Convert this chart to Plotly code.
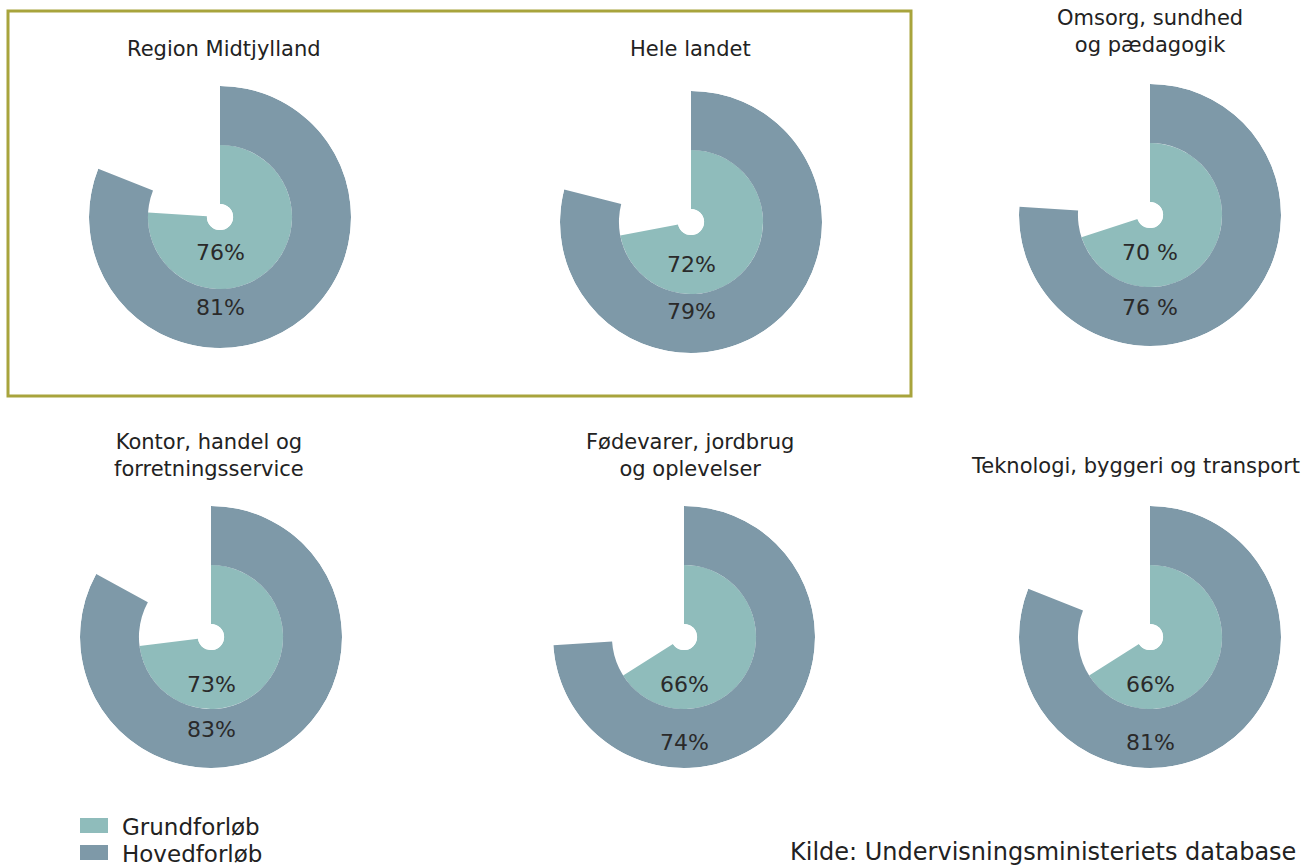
import plotly.graph_objects as go

W, H = 1304, 867

titles = ["Region Midtjylland", "Hele landet", "Omsorg, sundhed<br>og pædagogik",
          "Kontor, handel og<br>forretningsservice", "Fødevarer, jordbrug<br>og oplevelser",
          "Teknologi, byggeri og transport"]
grund = [76, 72, 70, 73, 66, 66]
hoved = [81, 79, 76, 83, 74, 81]
grund_txt = ["76%", "72%", "70 %", "73%", "66%", "66%"]
hoved_txt = ["81%", "79%", "76 %", "83%", "74%", "81%"]
series = ["Grundforløb", "Hovedforløb"]
source = "Kilde: Undervisningsministeriets database"

# layout in pixels: chart centres, title positions, label offsets
centres = [(220, 217), (691, 222), (1150, 215), (211, 637), (684, 637), (1150, 637)]
title_pos = [(224, 49), (690, 49), (1150, 31), (209, 456), (690, 456), (1135, 466)]
lab_off = [(36, 91), (42, 90), (38, 93), (47, 92), (47, 105), (47, 105)]
R = 131

c_in, c_out = "#8fbcbb", "#7e99a8"
colors = [c_in, c_out]
FONT = "DejaVu Sans"

fig = go.Figure()
annotations = []
for i in range(6):
    cx, cy = centres[i]
    pid = "polar" if i == 0 else f"polar{i + 1}"
    fig.add_trace(go.Barpolar(r=[0.5], base=[0], theta=[grund[i] * 3.6 / 2], width=[grund[i] * 3.6],
                              marker=dict(color=c_in, line=dict(width=0)), name=series[0],
                              showlegend=False, subplot=pid, hoverinfo="skip"))
    fig.add_trace(go.Barpolar(r=[0.5], base=[0.5], theta=[hoved[i] * 3.6 / 2], width=[hoved[i] * 3.6],
                              marker=dict(color=c_out, line=dict(width=0)), name=series[1],
                              showlegend=False, subplot=pid, hoverinfo="skip"))
    fig.update_layout(**{pid: dict(
        domain=dict(x=[(cx - R) / W, (cx + R) / W], y=[1 - (cy + R) / H, 1 - (cy - R) / H]),
        hole=0.1, bgcolor="white",
        radialaxis=dict(range=[0, 1], visible=False),
        angularaxis=dict(rotation=90, direction="clockwise", visible=False),
    )})
    tx, ty = title_pos[i]
    annotations.append(dict(x=tx / W, y=1 - ty / H, xref="paper", yref="paper", text=titles[i],
                            xanchor="center", yanchor="middle", showarrow=False,
                            font=dict(size=21, color="#222", family=FONT)))
    for txt, off in ((grund_txt[i], lab_off[i][0]), (hoved_txt[i], lab_off[i][1])):
        annotations.append(dict(x=cx / W, y=1 - (cy + off) / H, xref="paper", yref="paper", text=txt,
                                xanchor="center", yanchor="middle", showarrow=False,
                                font=dict(size=22, color="#2a2a2a", family=FONT)))

# legend drawn by hand to get the wide swatches
shapes = [dict(type="rect", xref="paper", yref="paper", x0=8 / W, x1=911 / W,
               y0=1 - 396 / H, y1=1 - 11 / H, line=dict(color="#a8a43c", width=3))]
for k, name in enumerate(series):
    yc = 826 + 27 * k
    shapes.append(dict(type="rect", xref="paper", yref="paper", x0=80 / W, x1=108 / W,
                       y0=1 - (yc + 7) / H, y1=1 - (yc - 8) / H, fillcolor=colors[k], line=dict(width=0)))
    annotations.append(dict(x=120 / W, y=1 - (yc + 1) / H, xref="paper", yref="paper", text=name,
                            xanchor="left", yanchor="middle", showarrow=False,
                            font=dict(size=23, color="#222", family=FONT)))

annotations.append(dict(x=1298 / W, y=1 - 852 / H, xref="paper", yref="paper", text=source,
                        xanchor="right", yanchor="middle", showarrow=False,
                        font=dict(size=24, color="#222", family=FONT)))

fig.update_layout(
    width=W, height=H, margin=dict(l=0, r=0, t=0, b=0),
    paper_bgcolor="white", plot_bgcolor="white",
    annotations=annotations, shapes=shapes, showlegend=False,
    font=dict(family=FONT),
)

fig.write_html("out.html", config={"displayModeBar": False},
               post_script="document.body.style.margin='0';")
